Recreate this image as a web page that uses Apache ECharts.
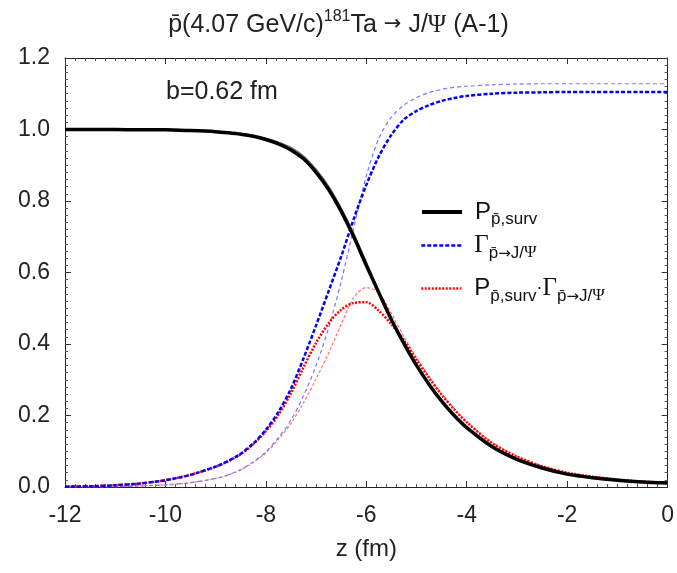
<!DOCTYPE html>
<html><head><meta charset="utf-8">
<script src="https://cdn.jsdelivr.net/npm/echarts@6/dist/echarts.min.js"></script>
<style>html,body{margin:0;padding:0;background:#fff}#c{width:677px;height:573px}</style>
</head><body><div id="c"></div>
<script>
// ---- data ----
const z = [-12,-11.5,-11,-10.5,-10,-9.5,-9,-8.75,-8.5,-8.25,-8,-7.75,-7.5,-7.25,-7,-6.75,-6.5,-6.25,-6,-5.75,-5.5,-5.25,-5,-4.75,-4.5,-4.25,-4,-3.5,-3,-2.5,-2,-1.5,-1,-0.5,0];
const pSurv = [1.000,1.000,1.000,0.999,0.999,0.997,0.994,0.991,0.987,0.981,0.972,0.960,0.943,0.918,0.880,0.832,0.771,0.700,0.620,0.543,0.468,0.401,0.340,0.287,0.240,0.200,0.166,0.113,0.077,0.053,0.036,0.026,0.019,0.014,0.011];
const pSurvThin = [1.000,1.000,1.000,0.999,0.999,0.998,0.995,0.993,0.989,0.984,0.976,0.965,0.950,0.926,0.889,0.842,0.781,0.710,0.630,0.550,0.472,0.404,0.342,0.288,0.241,0.200,0.166,0.113,0.077,0.053,0.036,0.026,0.019,0.014,0.011];
const gamma = [0.001,0.002,0.005,0.010,0.019,0.034,0.057,0.073,0.093,0.122,0.160,0.210,0.275,0.360,0.452,0.548,0.645,0.750,0.845,0.925,0.985,1.028,1.052,1.068,1.080,1.088,1.094,1.100,1.103,1.104,1.105,1.105,1.105,1.105,1.105];
const gammaThin = [0.000,0.000,0.001,0.003,0.006,0.012,0.024,0.034,0.049,0.070,0.098,0.138,0.187,0.255,0.340,0.445,0.575,0.725,0.870,0.975,1.035,1.068,1.089,1.103,1.112,1.118,1.121,1.125,1.127,1.128,1.128,1.128,1.128,1.128,1.128];
const prod = [0.001,0.002,0.005,0.010,0.019,0.034,0.057,0.072,0.092,0.120,0.156,0.202,0.262,0.335,0.403,0.458,0.496,0.515,0.517,0.493,0.455,0.410,0.356,0.305,0.258,0.217,0.181,0.123,0.085,0.058,0.040,0.029,0.021,0.015,0.012];
const prodThin = [0.000,0.000,0.001,0.003,0.006,0.012,0.024,0.034,0.048,0.069,0.096,0.133,0.178,0.236,0.302,0.375,0.455,0.530,0.558,0.543,0.485,0.420,0.362,0.309,0.261,0.219,0.183,0.125,0.086,0.059,0.040,0.029,0.021,0.016,0.012];
const xTickLabels = ['-12','-10','-8','-6','-4','-2','0'];
const yTickLabels = ['0.0','0.2','0.4','0.6','0.8','1.0','1.2'];

const FONT = "'Liberation Sans', Arial, Helvetica, sans-serif";
const SERIF = "'Liberation Serif', 'DejaVu Serif', serif";
const ARROWF = "'DejaVu Sans', sans-serif";
const pbar = 'p\u0304';
function pts(ys){ return z.map((v,i)=>[v, ys[i]]); }

const chart = echarts.init(document.getElementById('c'), null, {renderer:'canvas'});

const axisCommon = {
  type:'value',
  axisLine:{show:true, onZero:false, lineStyle:{color:'#222', width:1}},
  axisTick:{show:true, inside:true, length:6, lineStyle:{color:'#333', width:1}},
  minorTick:{show:true, splitNumber:10, length:3, lineStyle:{color:'#555', width:1}},
  splitLine:{show:false}
};

const richMain = {
  m:{fontFamily:FONT, fontSize:24, color:'#111', lineHeight:32, verticalAlign:'middle'},
  g:{fontFamily:SERIF, fontSize:25, color:'#111', lineHeight:32, verticalAlign:'middle'},
  s:{fontFamily:FONT, fontSize:17, color:'#111', lineHeight:19, verticalAlign:'bottom'},
  sa:{fontFamily:ARROWF, fontSize:15, color:'#111', lineHeight:19, verticalAlign:'bottom'},
  sp:{fontFamily:SERIF, fontSize:17, color:'#111', lineHeight:19, verticalAlign:'bottom'},
  d:{fontFamily:FONT, fontSize:18, color:'#111', lineHeight:32, verticalAlign:'middle'}
};

function legendItem(name, top, lw, ltype, color, fmt){
  return {
    data:[name], left:415, top:top, orient:'vertical',
    itemWidth:40, itemHeight:12, itemGap:0,
    selectedMode:false,
    lineStyle:{width:lw, type:ltype, color:color},
    itemStyle:{opacity:0},
    formatter: fmt,
    textStyle:{rich:richMain, padding:[0,0,0,8]}
  };
}
const gSub = '{s|' + pbar + '}{sa|\u2192}{s|J/}{sp|\u03A8}';

const option = {
  animation:false,
  backgroundColor:'#fff',
  title:[
    {text:'{a|' + pbar + '(4.07 GeV/c)}{b|181}{a|Ta }{r|\u2192}{a| J/}{p|\u03A8}{a| (A-1)}', left:'center', top:4,
     textStyle:{rich:{
       a:{fontFamily:FONT, fontSize:25, fontWeight:'normal', color:'#222', lineHeight:32, verticalAlign:'middle'},
       r:{fontFamily:ARROWF, fontSize:21, fontWeight:'normal', color:'#222', lineHeight:32, verticalAlign:'middle'},
       p:{fontFamily:SERIF, fontSize:25, fontWeight:'normal', color:'#222', lineHeight:32, verticalAlign:'middle'},
       b:{fontFamily:FONT, fontSize:16, fontWeight:'normal', color:'#222', lineHeight:18, verticalAlign:'top'}
     }}},
    {text:'b=0.62 fm', left:166, top:80, padding:0, textStyle:{fontFamily:FONT, fontSize:25, fontWeight:'normal', color:'#222'}}
  ],
  legend:[
    legendItem('P', 195, 4, 'solid', '#000', ()=>'{m|P}{s|' + pbar + ',surv}'),
    legendItem('G', 228, 2.5, [4,2], '#0000ff', ()=>'{g|\u0393}' + gSub),
    legendItem('PG', 271, 2.5, [2,1.5], '#ff0000', ()=>'{m|P}{s|' + pbar + ',surv}{d|\u00B7}{g|\u0393}' + gSub)
  ],
  grid:{left:65, right:7, top:58, bottom:86, containLabel:false},
  xAxis:[
    Object.assign({}, axisCommon, {min:-12, max:0, interval:2, position:'bottom',
      name:'z (fm)', nameLocation:'middle', nameGap:50,
      nameTextStyle:{fontFamily:FONT, fontSize:24, color:'#222'},
      axisLabel:{show:true, margin:17, fontFamily:FONT, fontSize:23, color:'#222',
        formatter:(v)=>xTickLabels[Math.round((v+12)/2)]}}),
    Object.assign({}, axisCommon, {min:-12, max:0, interval:2, position:'top', axisLabel:{show:false}})
  ],
  yAxis:[
    Object.assign({}, axisCommon, {min:0, max:1.2, interval:0.2, position:'left',
      axisLabel:{show:true, margin:15, fontFamily:FONT, fontSize:23, color:'#222',
        formatter:(v)=>yTickLabels[Math.round(v/0.2)]}}),
    Object.assign({}, axisCommon, {min:0, max:1.2, interval:0.2, position:'right', axisLabel:{show:false}})
  ],
  series:[
    {name:'PGthin', type:'line', data:pts(prodThin), symbol:'none', smooth:0.3, silent:true,
      itemStyle:{color:'#ff7070'}, lineStyle:{color:'#ff7070', width:1.2, type:[3,2]}, z:2},
    {name:'Gthin', type:'line', data:pts(gammaThin), symbol:'none', smooth:0.3, silent:true,
      itemStyle:{color:'#7878ff'}, lineStyle:{color:'#7878ff', width:1.2, type:[4,3]}, z:2},
    {name:'Pthin', type:'line', data:pts(pSurvThin), symbol:'none', smooth:0.3, silent:true,
      itemStyle:{color:'#666'}, lineStyle:{color:'#666', width:1.2}, z:2},
    {name:'PG', type:'line', data:pts(prod), symbol:'none', smooth:0.3, silent:true,
      itemStyle:{color:'#ff0000'}, lineStyle:{color:'#ff0000', width:2.5, type:[2,1.5]}, z:3},
    {name:'G', type:'line', data:pts(gamma), symbol:'none', smooth:0.3, silent:true,
      itemStyle:{color:'#0000ff'}, lineStyle:{color:'#0000ff', width:2.5, type:[4,2]}, z:4},
    {name:'P', type:'line', data:pts(pSurv), symbol:'none', smooth:0.3, silent:true,
      itemStyle:{color:'#000'}, lineStyle:{color:'#000', width:3.5}, z:5}
  ]
};
chart.setOption(option);
</script></body></html>
